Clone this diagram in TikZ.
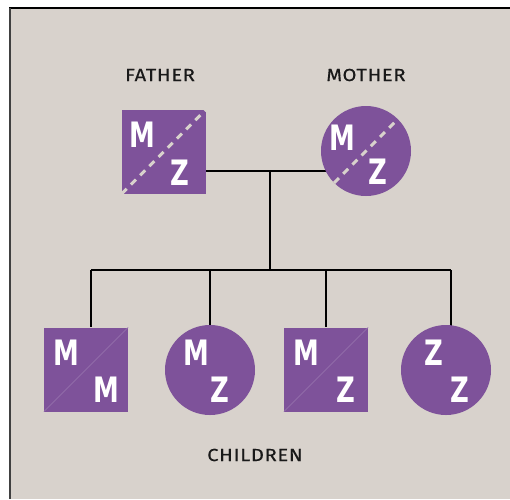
\documentclass[tikz,border=0pt]{standalone}
\usepackage{fontspec}
\setmainfont{Fira Sans}
\newfontfamily\letterfont{DejaVu Sans Bold}[FakeStretch=0.74]
\newfontfamily\labelfont{Fira Sans}[FakeStretch=1.15,LetterSpace=4,FakeBold=0.4]
\usetikzlibrary{backgrounds}
\definecolor{bg}{HTML}{D8D2CC}
\definecolor{purp}{HTML}{7E529A}
\definecolor{purpl}{HTML}{9A78B0}
\tikzset{
  sq/.style={rectangle, fill=purp, minimum size=84pt, inner sep=0pt},
  circ/.style={circle, fill=purp, minimum size=90pt, inner sep=0pt},
  letter/.style={text=white, font=\letterfont\fontsize{35}{35}\selectfont, inner sep=0pt},
  lbl/.style={font=\labelfont\fontsize{17.5}{17.5}\selectfont, text=black!90, inner sep=0pt},
  conn/.style={draw=black, line width=1.6pt},
  dashln/.style={draw=bg, line width=3pt, dash pattern=on 7pt off 6pt},
  thinln/.style={draw=purpl, line width=0.6pt}
}
\begin{document}
\begin{tikzpicture}[x=1pt,y=-1pt]
\useasboundingbox (0,0) rectangle (510,499);
% nodes
\node[sq] (f) at (164,151.5) {};
\node[circ] (m) at (366,151) {};
\node[sq] (c1) at (86,369.5) {};
\node[circ] (c2) at (210,370) {};
\node[sq] (c3) at (326,369.5) {};
\node[circ] (c4) at (446,370) {};
\coordinate (j) at (270,171);
\coordinate (jb) at (270,270);
\coordinate (bl) at (91,270);
\coordinate (br) at (451,270);
% diagonals
\draw[dashln] (f.south west) -- (f.north east);
\draw[dashln] (m.225) -- (m.45);
\draw[thinln] (c1.south west) -- (c1.north east);
\draw[thinln] (c3.south west) -- (c3.north east);
% letters
\node[letter] at ([shift={(-22,-17)}]f.center) {M};
\node[letter] at ([shift={(16,21)}]f.center) {Z};
\node[letter] at ([shift={(-24,-13)}]m.center) {M};
\node[letter] at ([shift={(12,21)}]m.center) {Z};
\node[letter] at ([shift={(-20,-17)}]c1.center) {M};
\node[letter] at ([shift={(20,20)}]c1.center) {M};
\node[letter] at ([shift={(-14,-17)}]c2.center) {M};
\node[letter] at ([shift={(10,20)}]c2.center) {Z};
\node[letter] at ([shift={(-20,-17)}]c3.center) {M};
\node[letter] at ([shift={(20,20)}]c3.center) {Z};
\node[letter] at ([shift={(-12,-17)}]c4.center) {Z};
\node[letter] at ([shift={(14,20)}]c4.center) {Z};
% labels
\node[lbl] (lf) at (160,75) {FATHER};
\node[lbl] (lm) at (366,75) {MOTHER};
\node[lbl] (lc) at (255,455) {CHILDREN};
% background and connectors
\begin{scope}[on background layer]
\fill[bg] (9,8) rectangle (510,499);
\draw[black, line width=1.5pt] (9,8) -- (510,8);
\draw[black!75, line width=2pt] (10,8) -- (10,499);
\draw[conn] (f.east |- j) -- (m.center |- j);
\draw[conn] (j) -- (jb);
\draw[conn] (bl) -- (br);
\draw[conn] (bl) -- (bl |- c1.north);
\draw[conn] (c2.center |- bl) -- (c2.center);
\draw[conn] (c3.center |- bl) -- (c3.north);
\draw[conn] (br) -- (br |- c4.center);
\end{scope}
\end{tikzpicture}
\end{document}
